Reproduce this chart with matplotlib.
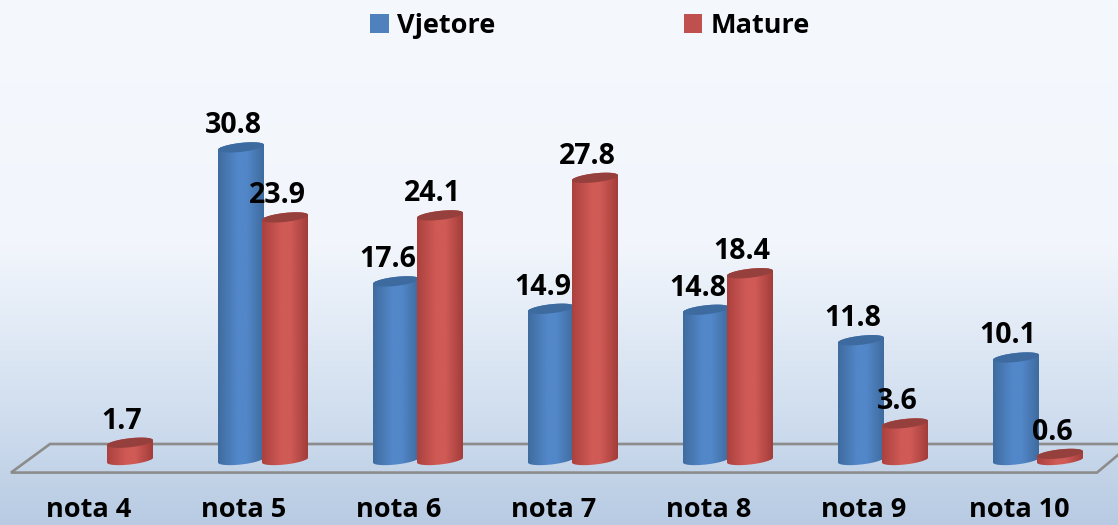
"""Grouped cylinder chart: Vjetore vs Mature, share of grades (nota 4 .. nota 10)."""
import matplotlib
matplotlib.use("Agg")
import matplotlib.pyplot as plt
import numpy as np
from matplotlib.patches import Patch, PathPatch
from matplotlib.path import Path

CATEGORIES = ["nota 4", "nota 5", "nota 6", "nota 7", "nota 8", "nota 9", "nota 10"]
VJETORE = [np.nan, 30.8, 17.6, 14.9, 14.8, 11.8, 10.1]
MATURE = [1.7, 23.9, 24.1, 27.8, 18.4, 3.6, 0.6]
SERIES_NAMES = ["Vjetore", "Mature"]

W, H = 1118, 525
PX_PER_CAT = 155.0
PX_PER_UNIT = 10.15
BASE_PX = 460.0      # pixel row of value 0
AXES_BOTTOM_PX = 490.0
FIRST_CAT_PX = 89.0
FONT_SIZE = 19.5
VALUE_FONT_SIZE = 20.5

plt.rcParams["font.family"] = ["Open Sans", "DejaVu Sans"]
plt.rcParams["font.weight"] = "bold"

BLUE = {"edge_l": "#3f6c9f", "mid": "#5287c9", "edge_r": "#3f6c9f", "top": "#3d6a9f", "legend": "#4f81bd"}
RED = {"edge_l": "#ab413e", "mid": "#d05a56", "edge_r": "#a33d3a", "top": "#96403e", "legend": "#c0504d"}


def cylinder_path(x0, width, value):
    """Outline of a slightly tilted cylinder, in data coordinates."""
    a = width / 2
    cx = x0 + a
    b = 4.5 / PX_PER_UNIT
    k = 2.5 / PX_PER_UNIT
    t = np.linspace(np.pi, 2 * np.pi, 40)
    lower = np.column_stack([cx + a * np.cos(t), b * np.sin(t) + k * np.cos(t)])
    t = np.linspace(0, np.pi, 40)
    upper = np.column_stack([cx + a * np.cos(t), value + b * np.sin(t) + k * np.cos(t)])
    return Path(np.vstack([lower, upper, lower[:1]]), closed=True)


def top_path(x0, width, value):
    a = width / 2
    b = 4.5 / PX_PER_UNIT
    k = 2.5 / PX_PER_UNIT
    t = np.linspace(0, 2 * np.pi, 80)
    return Path(np.column_stack([x0 + a + a * np.cos(t),
                                 value + b * np.sin(t) + k * np.cos(t)]), closed=True)


def draw_series(ax, values, offset_px, pal):
    xs = np.arange(len(values)) + offset_px / PX_PER_CAT
    width = 46 / PX_PER_CAT
    bars = ax.bar(xs, values, width=width, color=pal["mid"], linewidth=0, zorder=3)
    rgb = matplotlib.colors.to_rgb
    grad = np.array([rgb(pal["edge_l"]), rgb(pal["mid"]), rgb(pal["mid"]), rgb(pal["edge_r"])])
    pos = np.linspace(0, 1, 64)
    img = np.stack([np.interp(pos, [0, 0.42, 0.62, 1], grad[:, c]) for c in range(3)], axis=1)[None, :, :]
    for bar, val in zip(bars, values):
        if np.isnan(val):
            continue
        x0 = bar.get_x()
        outline = PathPatch(cylinder_path(x0, width, val), transform=ax.transData)
        bar.set_clip_path(outline)
        pad = 10 / PX_PER_UNIT
        im = ax.imshow(img, extent=(x0, x0 + width, -pad, val + pad), aspect="auto",
                       interpolation="bilinear", zorder=3)
        im.set_clip_path(outline)
        ax.add_patch(PathPatch(top_path(x0, width, val), facecolor=pal["top"],
                               edgecolor="none", zorder=3))
        ax.annotate(f"{val:.1f}", (x0 + width / 2, val), xytext=(-5.8, 15.6),
                    textcoords="offset points", ha="center", va="center",
                    fontsize=VALUE_FONT_SIZE, fontweight="bold", color="black", zorder=5)


fig = plt.figure(figsize=(W / 100, H / 100), dpi=100)

# background gradient and floor frame, in pixel coordinates
bg = fig.add_axes([0, 0, 1, 1], zorder=0)
bg.set_xlim(0, W)
bg.set_ylim(H, 0)
bg.axis("off")
rows = np.arange(H)
stops = [0, 245, 400, H - 1]
top_c = np.array([[0xf5, 0xf9, 0xfe], [0xf2, 0xf6, 0xfc], [0xd3, 0xe0, 0xf0], [0xb8, 0xcb, 0xe3]]) / 255
grad_bg = np.stack([np.interp(rows, stops, top_c[:, c]) for c in range(3)], axis=1)[:, None, :]
bg.imshow(grad_bg, extent=(0, W, H, 0), aspect="auto")
bg.plot([W, 50, 11, 1097, W], [444, 444, 472.6, 472.6, 455], color="#8c8c8c", lw=1.9,
        solid_joinstyle="miter")
bg.set_xlim(0, W)
bg.set_ylim(H, 0)

ax = fig.add_axes([0, (H - AXES_BOTTOM_PX) / H, 1, AXES_BOTTOM_PX / H], zorder=1)
ax.patch.set_visible(False)
ax.set_xlim(-FIRST_CAT_PX / PX_PER_CAT, (W - FIRST_CAT_PX) / PX_PER_CAT)
ax.set_ylim((BASE_PX - AXES_BOTTOM_PX) / PX_PER_UNIT, BASE_PX / PX_PER_UNIT)
ax.set_autoscale_on(False)
for s in ax.spines.values():
    s.set_visible(False)
ax.set_yticks([])
ax.set_xticks(range(len(CATEGORIES)), CATEGORIES, fontsize=FONT_SIZE, fontweight="bold")
ax.tick_params(axis="x", length=0, pad=5)

draw_series(ax, VJETORE, -3, BLUE)
draw_series(ax, MATURE, 41, RED)

handles = [Patch(facecolor=BLUE["legend"]), Patch(facecolor=RED["legend"])]
leg = fig.legend(handles, SERIES_NAMES, loc="center", bbox_to_anchor=(590 / W, 1 - 26 / H),
                 ncol=2, frameon=False, handlelength=0.67, handleheight=0.67,
                 handletextpad=0.3, columnspacing=6.98, prop={"size": FONT_SIZE, "weight": "bold"})

fig.savefig("out.png", dpi=100)
